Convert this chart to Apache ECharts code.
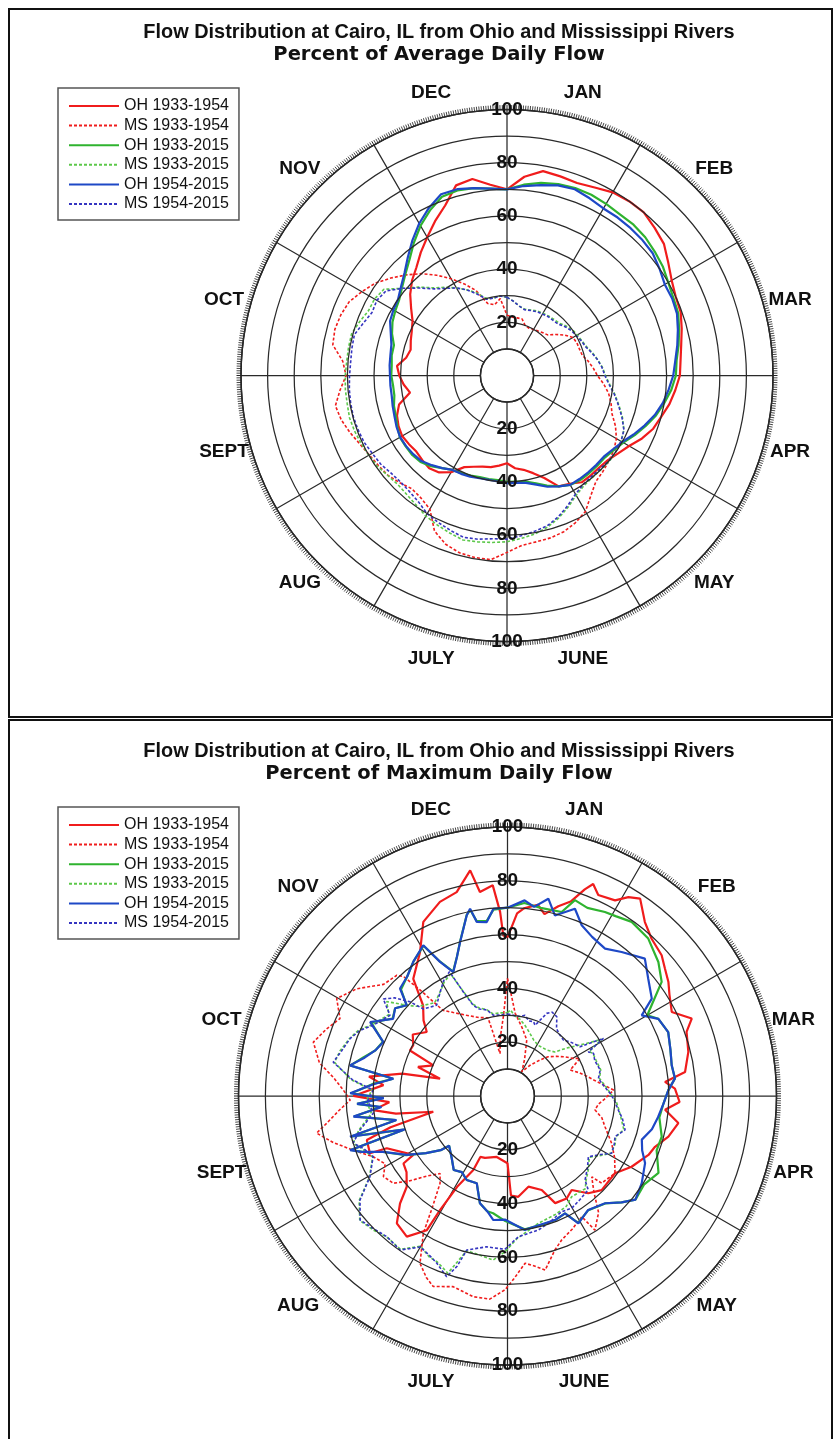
<!DOCTYPE html>
<html><head><meta charset="utf-8">
<script src="https://cdn.jsdelivr.net/npm/echarts@6/dist/echarts.min.js"></script>
<style>
html,body{margin:0;padding:0;background:#fff;}
#chart{position:absolute;left:0;top:0;width:833px;height:1439px;}
.panel{position:absolute;border:2px solid #111;box-sizing:border-box;}
</style></head><body>
<div class="panel" style="left:8px;top:8px;width:825px;height:710px"></div>
<div class="panel" style="left:8px;top:719px;width:825px;height:730px"></div>
<div id="chart"></div>
<script>
// ---------- text / categories ----------
const months = ['JAN','FEB','MAR','APR','MAY','JUNE','JULY','AUG','SEPT','OCT','NOV','DEC'];
const monthCenters = [15,45,75,105,135,165,195,225,255,285,315,345];
const radialTicks = [20,40,60,80,100];
const seriesNames = ['OH 1933-1954','MS 1933-1954','OH 1933-2015','MS 1933-2015','OH 1954-2015','MS 1954-2015'];
const titleLine1 = 'Flow Distribution at Cairo, IL from Ohio and Mississippi Rivers';
const titleAvg = 'Percent of Average Daily Flow';
const titleMax = 'Percent of Maximum Daily Flow';

// ---------- top chart: percent of average daily flow (angle in degrees, 0 = Jan 1) ----------
const avgAngles = [0,5,10,15,20,25,30,35,40,45,50,55,60,65,70,75,80,85,90,95,100,105,110,115,120,125,130,135,140,145,150,155,160,165,170,175,180,185,190,195,200,205,210,215,220,225,230,235,240,245,250,255,260,265,270,275,280,285,290,295,300,305,310,315,320,325,330,335,340,345,350,355,360];
const avgOH3354 = [70,75,78,77.5,77,78,79.5,80,80,78.5, 77,74,71.5,70,69.5,68,66.5,65.5,65,63.5, 62,60,58.5,56,53,51,49.5,49,49,49, 47,46,41,38,36,35,33,34,35,35.5, 36.5,38,42,44.5,45.5,45,44.5,45,45.5,45, 44,42,37,39,40.5,41.5,38.5,37.5,38.5,39.5, 41,44,47.5,50.5,53,56.5,60,64,68,74, 75,72,70];
const avgMS3354 = [22.7,22,22,22,20,19.6,20,20.4,21,21.6, 24,26.5,28.6,29,29,29.3,31,32.5,34,36.5, 38.8,40.5,42,45,47.5,49,50,51,52,55, 59,61,62.5,63.2,63.5,64.1,66.5,69.5,69.5,69, 67.5,64.5,58,56.3,55.6,57,58.4,59,59.8,61, 62.8,64.5,65.5,63,60.5,62,66.5,67,66.5,65.5, 63,60.5,57,53.5,50,46,42,38,34,28, 27,29,22.7];
const avgOH3315 = [70,72,73.5,74.5,75,75,74.5,74,74,73.5, 72.5,71.5,70,69,68.5,67,65.5,64,63.5,62, 60,58,55.5,53,50.5,49,48,48,48,48, 47.5,46,44,42,40.5,40,40,39.5,39.5,39.5, 40,40.5,41,42.5,44.5,46,46.5,46.5,46.5,45.5, 44.5,44,43,43,43.5,43.5,44,44,46,47.5, 48.5,49.5,51.5,54,57,61,65,68.5,71.5,72, 71.5,70.5,70];
const avgMS3315 = [29.4,28,26.5,25.8,26.2,26.8,27,27.3,27.5,27.8, 29,30,30.5,31,31.8,33.2,34.6,36,37,38.8, 41.2,43.6,46.2,48.5,49.5,50,50.2,50,50,50.5, 52,54.5,57,59,60.5,61.5,62.5,63,63.5,64, 63,62,61,59.5,58.5,58,58.5,59.5,60,60.5, 61,61.3,61,61,60.8,60.5,60.5,60.5,59,57.5, 57.5,56.5,51,47,43,40.5,38,35.5,33,30, 29.5,30,29.4];
const avgOH5415 = [70,71.5,72.7,74,74.5,73.5,72.5,72.5,72.3,72, 71.5,70,68.5,68.5,68,66.5,65,63.5,62.5,61, 59.5,57.5,55,52.5,50,48.5,47.5,47.5,47.5,47.5, 47.5,46,44.5,42.5,41,40.5,40.5,40,39.8,40, 40.5,40.8,41,42.5,44,45.5,46,46.3,46.4,45.8, 45,44.5,44,44,44,44.3,44.5,45,46.5,48.5, 49.3,50,52,54.5,58,62,66,69.5,72.5,72.5, 71.5,70.5,70];
const avgMS5415 = [29.4,28,26.5,25.6,26,26.5,26.7,27,27,27.3, 28.5,29.5,30.1,30.8,31.5,33,34.5,35.8,36.8,38.5, 41,43.4,46,48.5,49.5,49.9,50,49.5,49.5,50, 51.5,54,56.5,58.5,59.5,60.5,61.5,61.6,62.5,63, 62,61,60,58,57,56.6,57,58,58.5,59.3, 59.6,59.8,59.7,59.5,59.2,59,59.2,59.4,57.5,56, 56.5,55.5,51,46.5,42.5,40,38,35.5,32.5,29.7, 29.5,30,29.4];

// ---------- bottom chart: percent of maximum daily flow, [degree, percent] ----------
const maxOH3354 = [[0,59],[3,68],[5,70],[9,72],[11.5,69],[15,73],[18,76],[20.5,82],[22,85],[24.3,82],[28.8,83],[31.3,86.5],[33.9,88.4],[38.3,82.4],[42.5,79.3],[47.6,77.6],[51,75.3],[54.7,73.3],[58,71],[62.9,68.6],[67.2,74.3],[70.3,70.7],[76.3,69.2],[82.3,66.6],[84.9,58.8],[87.5,62.3],[92,64],[95,58.8],[99,64.3],[104.2,61.7],[109,58],[112.7,56.8],[119.7,53.1],[125.7,49.2],[135,49.5],[140.3,47],[145.7,42.3],[150,44],[156,43.6],[160,37.2],[167,34.6],[173.9,37.7],[178,37],[180,25],[190,23],[200,24.5],[204,24.8],[204.8,30.3],[209,38.6],[210.6,49.3],[211,58.2],[215.6,64.3],[221,62.7],[225,56.5],[228,50.4],[233,47],[237,46.1],[238,41.3],[246.6,48.9],[247.4,55.4],[252.6,54.8],[255,45],[258,28.2],[261,42],[264,50.2],[267,44],[270,57.3],[275,46.3],[278,52],[282,40],[284.4,25.9],[288,35],[292.5,29.8],[295,40],[298.3,39.8],[303,42],[308.4,38.3],[312,42],[317,46],[321.2,55.9],[328.7,62.6],[334.2,71.9],[340.8,76.4],[346,78.1],[350.6,85],[352.3,76.5],[356,78.5],[357.7,68.5],[358.5,59.7],[360,59]];
const maxMS3354 = [[0,43.7],[2,38],[5.3,30.9],[12,26],[19,22],[25,15],[30.5,10.5],[36,14],[42,18],[46,21],[51,23.4],[56,26],[60,28],[62.6,30.4],[67.5,25.2],[72,28],[76,30.4],[80,33],[86.8,39.5],[92,36],[95,34],[99,32.9],[103,36],[107.5,38],[114.4,42.5],[120,46],[125.7,49.2],[132.8,47.7],[133.8,43.4],[138,48],[142,55],[146.9,59.5],[148.4,52.7],[154,55],[159.4,57.2],[163,60],[167.8,66.2],[171,64],[174,62.5],[178,68],[180.7,72],[185,75.8],[189.7,75.7],[195.9,73.7],[201.3,76],[204,74],[207.6,70.2],[211.5,59.9],[214,50],[217.7,41],[221,38.2],[225,42],[229,48],[232.6,53.4],[237,55],[241,52],[245.7,54.8],[250,60],[255,67],[259,72.3],[261.4,68],[265,63],[268.5,58.5],[272,61],[276,65],[280,71],[285.5,74.9],[290.4,71.7],[294.8,68.6],[299.7,73.1],[305.4,68.8],[307.7,66.2],[312,62],[317.5,60.9],[319,58.8],[320.5,51],[323,39.9],[327,37],[333,33.7],[340,31],[346,30],[350,16],[353,22],[357,29.5],[360,43.7]];
const maxOH3315 = [[0,70],[5,72],[10,71],[16.4,71.3],[19,77],[23,76],[27.9,77.4],[31,78],[35.5,79.5],[41.8,78.5],[48.4,75],[53.5,71.3],[57.8,63.3],[60,60],[62.9,63],[68.3,64.3],[74,63],[79.4,62.1],[84,62.6],[88,59.8],[93,58],[98,57],[104.8,59.3],[110,59],[117,63],[123,60.5],[129,61.2],[133,58],[137.7,54],[144.7,52],[150.9,54],[153.9,48.6],[159,49.4],[163.6,49.5],[172.6,50],[181,46.5],[187,43.9],[190,43.5],[194.4,41.2],[199.4,34.4],[205.9,34.7],[211,33],[216,34],[222,31],[229.6,28.5],[231,32],[235,37],[239.7,43.6],[245.8,50.8],[249,58],[251,61.5],[252,40.5],[255.5,60],[257.8,42.5],[262.4,57.5],[265,47.5],[267,56],[269,46.5],[271,58],[275,50.5],[278.6,43],[281,59.5],[285,55.5],[289,52],[293.5,50.5],[298.3,57.5],[304,51.5],[308,53],[312,50.5],[315,56],[320,58],[325,61],[330.8,64],[333.3,56],[336.4,50.5],[340,55],[342.9,60],[347.3,69],[348.7,70.5],[350,66],[353.2,65.5],[355.7,69.5],[360,70]];
const maxMS3315 = [[0,31],[2,32],[5,30],[9,29],[14,27],[19,25],[25,23],[31.3,22],[40.5,22.5],[47,24],[51,28.3],[56.4,35.4],[59,41],[61.4,34.5],[63.6,35.5],[68,35.5],[74.3,36],[79.2,34.8],[84,36.5],[89,38.5],[93,40.5],[97.2,41.8],[101,43],[106.1,45],[110.7,43],[114,43.8],[118.8,44],[122,41.5],[126.9,38],[132,40.5],[137.3,43],[140,45],[147.5,44.4],[152,46.5],[158,47.5],[166.4,48.7],[172,51],[176,53],[181,58],[185,61.2],[190,60],[194.8,59.5],[198.6,69.5],[202.9,67],[206,66.5],[210,64.5],[214.9,69.5],[220.6,69],[225,70.5],[229.9,71.8],[234.8,67.5],[239.6,59.5],[245.7,55],[250,57.5],[253,60],[257,56.8],[262.7,51],[268,52.5],[272.5,50.5],[276,58.5],[281,65.5],[285,64.5],[290,62.5],[294,60.5],[297.8,56.8],[304.5,53.5],[308,57],[311,52],[314,48],[316,46.5],[322,44],[327,46],[331,48.5],[335,50],[337,42.5],[339.3,36.5],[342,34.5],[346.5,33],[350,31],[355,31],[360,31]];
const maxOH5415 = [[0,70],[5,73],[8,71],[11.7,74.9],[14.7,69.4],[19.8,74],[23.5,69.2],[28,67],[33.5,65.7],[38.4,68.3],[45,72.2],[50.2,68.1],[56,64.7],[59,58.2],[62.9,63],[68.3,64.3],[74,63],[79.4,62.1],[84,62.6],[88,59.8],[93,58],[98,56.5],[103,55.1],[108,52.5],[112,54],[116,56.9],[123,59.5],[129,61.2],[133,58],[137.7,53.9],[144.7,51.9],[150.9,54.2],[153.9,48.6],[159,49.4],[163.6,49.3],[172.6,50.2],[181,46],[186.5,46.4],[190,43.5],[194.4,41.2],[199.4,34.4],[205.9,34.7],[211,33],[216,34],[222,31],[229.6,28.5],[231,32],[235,37],[239.7,43.4],[245.8,50.6],[249,58],[251,61.9],[252,40],[255.5,60.5],[257.8,42.2],[262.4,57.8],[265,47],[267,56],[269,46],[271,58.5],[275,50],[278.6,42.9],[281,59.7],[285,55],[289,52],[293.5,50.3],[298.3,58],[304,51.3],[308,53],[312,50.4],[315,56.5],[320,58],[325,61],[330.8,64.2],[333.3,55.8],[336.4,50.3],[340,55],[342.9,59.9],[347.3,68.9],[348.7,71],[350,65.7],[353.2,65.1],[355.7,69.8],[360,70]];
const maxMS5415 = [[0,30.5],[5,30],[9,29.9],[12.2,30.7],[16,29],[19.3,29.3],[21.3,28.2],[25.4,34],[28,35.3],[31.9,34.7],[36,31],[40,30],[45,29.4],[50,31],[55.8,32.6],[59,41.6],[61.4,34.2],[63.6,35.7],[68,35],[74.3,35.8],[79.2,34.4],[84,36],[89,38.4],[93,40],[97.2,41.5],[101,43.5],[106.1,45.5],[110.7,42.7],[114,43.5],[118.8,44.2],[122,41],[126.9,37.6],[132,40],[137.3,42.5],[139.3,46],[145,47],[150,48],[155,47.5],[162.2,49.7],[167,51.1],[175.6,52.5],[181,57],[187.9,56.6],[194.8,59.2],[196.5,66],[198.6,70.9],[202.9,67.5],[206,66],[210,64.8],[214.9,69.8],[220.6,68.9],[225,70],[229.9,71.6],[234.8,67.1],[239.6,59.3],[245.7,54.8],[250,57],[253,60],[257,56.3],[262.7,50.3],[268,52],[272.5,50],[276,58],[281,66],[285,64],[290,62.3],[294,60],[297.8,56.4],[304.5,53],[308,58.6],[311,55.6],[314,50.4],[316,45],[322,42.8],[327,46],[331,49],[335,51],[337,42],[339.3,36],[342,34],[346.5,32.9],[350,30.5],[355,30.2],[360,30.5]];

// ---------- styling / layout ----------
const FONT = '"Liberation Sans", Arial, Helvetica, sans-serif';
const WIDE = '"DejaVu Sans", Verdana, sans-serif';
const GRID = '#2a2a2a';
const lineStyles = [
  {color:'#f01c1c', width:2.2, type:'solid'},
  {color:'#f01c1c', width:1.6, type:[3,2]},
  {color:'#2fb32f', width:2.2, type:'solid'},
  {color:'#5cc84a', width:1.6, type:[3,2]},
  {color:'#1e48c6', width:2.2, type:'solid'},
  {color:'#3535c0', width:1.6, type:[3,2]}
];
const charts = [
  {cx:507, cy:375.5, r0:26.6, r:266, rl:293, titleTop:23, subtitle:titleAvg, legendTop:88,
   data:[avgOH3354, avgMS3354, avgOH3315, avgMS3315, avgOH5415, avgMS5415].map(v => v.map((p,i)=>[p, avgAngles[i]]))},
  {cx:507.5, cy:1096, r0:26.9, r:269, rl:296, titleTop:742, subtitle:titleMax, legendTop:807,
   data:[maxOH3354, maxMS3354, maxOH3315, maxMS3315, maxOH5415, maxMS5415].map(v => v.map(p=>[p[1], p[0]]))}
];

const option = {animation:false, backgroundColor:'transparent',
  title:[], legend:[], polar:[], angleAxis:[], radiusAxis:[], series:[]};

const radLabel = {show:true, margin:0, align:'center', verticalAlign:'middle', fontSize:19, fontWeight:'bold',
  color:'#111', fontFamily:FONT, formatter: v => radialTicks.indexOf(v) >= 0 ? String(v) : ''};
const hiddenAngle = {axisLine:{show:false}, axisTick:{show:false}, axisLabel:{show:false}, splitLine:{show:false}};

charts.forEach((c, k) => {
  const p = 3*k;
  option.title.push({text: titleLine1, subtext: c.subtitle, left: 439, top: c.titleTop, textAlign:'center', padding:0, itemGap:2,
    textStyle:{fontSize:19.9, fontWeight:'bold', lineHeight:20, color:'#111', fontFamily:FONT},
    subtextStyle:{fontSize:19.5, fontWeight:'bold', lineHeight:20, color:'#111', fontFamily:WIDE}});
  option.legend.push({data: seriesNames, orient:'vertical', left:58, top:c.legendTop, selectedMode:false,
    padding:[10,10,8,10], itemWidth:50, itemHeight:14, itemGap:3.6, borderColor:'#555', borderWidth:1.5,
    backgroundColor:'#fff', itemStyle:{opacity:0},
    textStyle:{fontSize:16, lineHeight:14, color:'#111', fontFamily:FONT}});
  option.polar.push({center:[c.cx, c.cy], radius:[c.r0, c.r]},
                    {center:[c.cx, c.cy], radius:[c.r0, c.r]},
                    {center:[c.cx, c.cy], radius:[0, c.rl]});
  option.angleAxis.push(
    {polarIndex:p, type:'value', min:0, max:360, interval:30, startAngle:90, clockwise:true,
     axisLine:{show:true, lineStyle:{color:'#1a1a1a', width:1.5}},
     axisTick:{show:true, length:4.5, lineStyle:{color:'#222', width:1}},
     minorTick:{show:true, splitNumber:60, length:4.5, lineStyle:{color:'#333', width:0.9}},
     axisLabel:{show:false},
     splitLine:{show:true, lineStyle:{color:GRID, width:1.25}}},
    Object.assign({polarIndex:p+1, type:'value', min:0, max:360, startAngle:270, clockwise:true}, hiddenAngle),
    Object.assign({polarIndex:p+2, type:'value', min:0, max:360, startAngle:90, clockwise:true}, hiddenAngle)
  );
  option.radiusAxis.push(
    {polarIndex:p, type:'value', min:10, max:100, interval:10, axisLine:{show:false}, axisTick:{show:false},
     splitLine:{show:true, lineStyle:{color:GRID, width:1.25}}, axisLabel:radLabel, z:5},
    {polarIndex:p+1, type:'value', min:10, max:100, interval:10, axisLine:{show:false}, axisTick:{show:false},
     splitLine:{show:false}, axisLabel:radLabel, z:5},
    {polarIndex:p+2, type:'value', min:0, max:100, axisLine:{show:false}, axisTick:{show:false},
     splitLine:{show:false}, axisLabel:{show:false}}
  );
  c.data.forEach((d, i) => {
    option.series.push({name: seriesNames[i], type:'line', coordinateSystem:'polar', polarIndex:p,
      data:d, symbol:'none', smooth:false, clip:false, silent:true,
      lineStyle:lineStyles[i], itemStyle:{color:lineStyles[i].color}, z:2});
  });
  option.series.push({type:'scatter', coordinateSystem:'polar', polarIndex:p+2, silent:true, clip:false,
    symbol:'circle', symbolSize:0.5, itemStyle:{color:'#111'}, z:6,
    data: monthCenters.map((a, i) => ({name: months[i], value:[100, a]})),
    label:{show:true, position:'inside', formatter:'{b}', fontSize:19, fontWeight:'bold', color:'#111',
      textBorderWidth:0, opacity:1, fontFamily:FONT}});
});

const chart = echarts.init(document.getElementById('chart'), null, {renderer:'canvas'});
chart.setOption(option);
</script></body></html>
